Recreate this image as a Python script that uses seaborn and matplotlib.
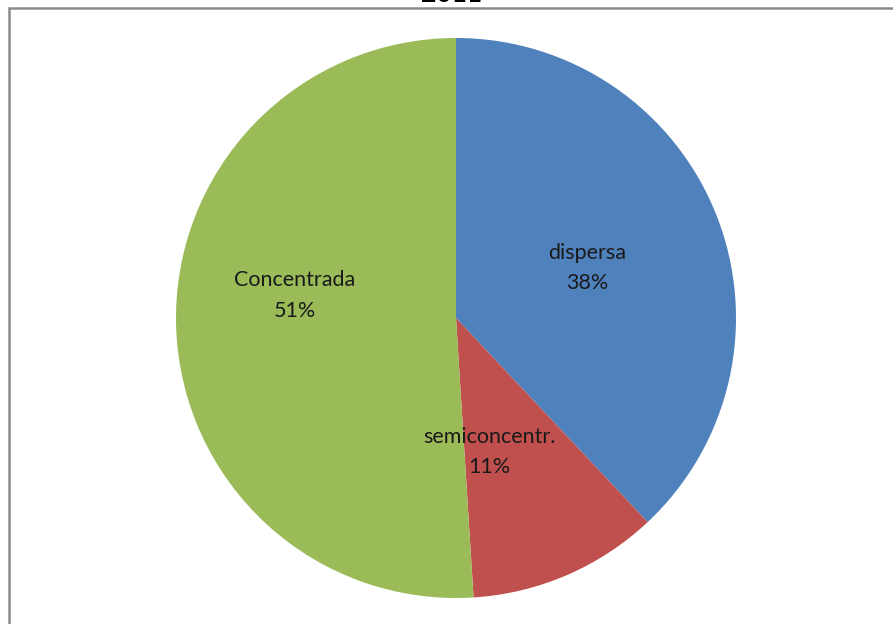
import matplotlib
matplotlib.use("Agg")
import matplotlib.pyplot as plt
import seaborn as sns
from matplotlib.patches import Rectangle

categories = ["dispersa", "semiconcentr.", "Concentrada"]
values = [38, 11, 51]
colors = ["#4F81BD", "#C0504D", "#9BBB59"]
title = "2011"

sns.set_theme(style="white")
plt.rcParams['font.family'] = ['Lato', 'DejaVu Sans']

W, H = 893, 624
fig = plt.figure(figsize=(W / 100, H / 100), dpi=100)
fig.patch.set_facecolor("white")

# frame
fig.add_artist(Rectangle((9 / W, -0.1), 1.2, 1 - 8 / H + 0.1, transform=fig.transFigure,
                         fill=False, edgecolor="#8a8a8a", linewidth=1.8))
fig.text(452 / W, 1 - 1.5 / H, title, ha="center", va="baseline", fontsize=19,
         fontweight="bold", color="black")

cx, cy, r = 456, 318, 280
ax = fig.add_axes([(cx - r) / W, (H - cy - r) / H, 2 * r / W, 2 * r / H])
wedges, _ = ax.pie(values, colors=colors, startangle=90, counterclock=False,
                   radius=1.0, wedgeprops=dict(linewidth=0))
ax.set_xlim(-1, 1)
ax.set_ylim(-1, 1)
ax.set_aspect("equal")
ax.axis("off")

label_pos = [(0.468, 0.179), (0.118, -0.479), (-0.575, 0.080)]
for (lx, ly), name, v in zip(label_pos, categories, values):
    ax.text(lx, ly, f"{name}\n{v}%", ha="center", va="center", fontsize=15.5,
            color="#1a1a1a", linespacing=1.65)

fig.savefig("out.png", dpi=100, facecolor="white")
